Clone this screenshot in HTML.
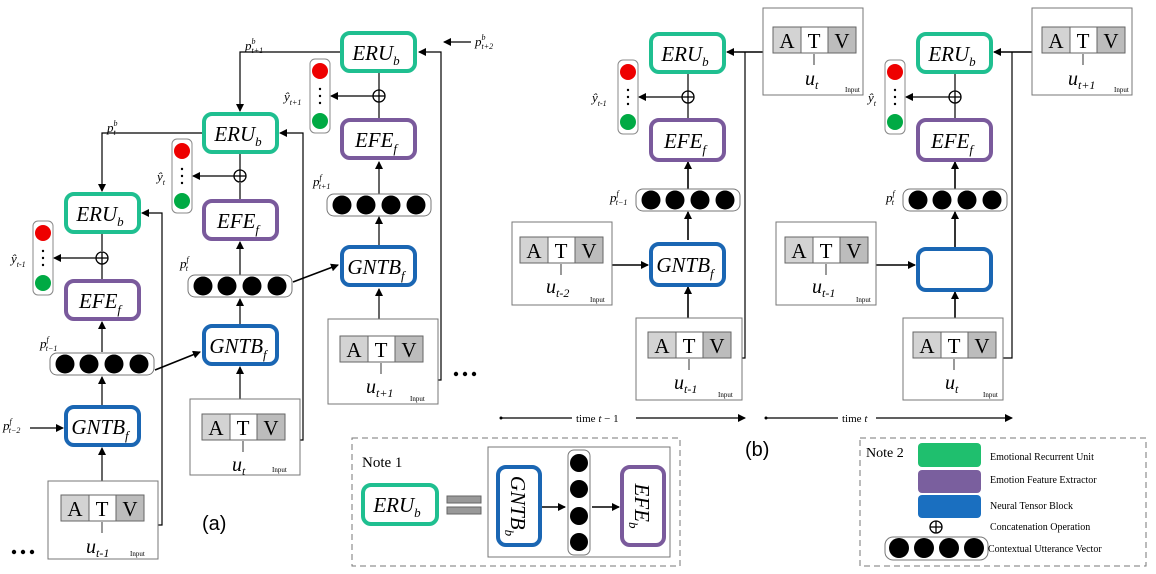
<!DOCTYPE html>
<html><head><meta charset="utf-8"><style>
body{margin:0;background:#fff}
svg{display:block;font-family:"Liberation Serif",serif}
.it{font-style:italic}
</style></head><body>
<svg width="1156" height="574" viewBox="0 0 1156 574" xmlns="http://www.w3.org/2000/svg">
<defs>
<marker id="ar" markerWidth="8" markerHeight="8" refX="7" refY="4" orient="auto" markerUnits="userSpaceOnUse"><path d="M0,0 L8,4 L0,8 Z" fill="#000"/></marker>
<g id="sm"><rect x="0" y="0" width="20" height="74" rx="5" fill="#fff" stroke="#888"/><circle cx="10" cy="12" r="8" fill="#e00"/><circle cx="10" cy="62" r="8" fill="#0a4"/><circle cx="10" cy="30" r="1.2"/><circle cx="10" cy="37" r="1.2"/><circle cx="10" cy="44" r="1.2"/></g>
<g id="vh"><rect x="0" y="0" width="104" height="22" rx="7" fill="#fff" stroke="#777"/><circle cx="15" cy="11" r="9.5"/><circle cx="39" cy="11" r="9.5"/><circle cx="64" cy="11" r="9.5"/><circle cx="89" cy="11" r="9.5"/></g>
<g id="cat"><circle cx="0" cy="0" r="6" fill="#fff" stroke="#000" stroke-width="1.3"/><line x1="-6" y1="0" x2="6" y2="0" stroke="#000" stroke-width="1.3"/><line x1="0" y1="-6" x2="0" y2="6" stroke="#000" stroke-width="1.3"/></g>
<g id="atv"><rect x="0" y="0" width="28" height="26" fill="#d3d3d3" stroke="#666"/><rect x="28" y="0" width="27" height="26" fill="#fff" stroke="#666"/><rect x="55" y="0" width="28" height="26" fill="#bcbcbc" stroke="#666"/></g>
</defs>

<g stroke="#000" fill="none" stroke-width="1.2">
<path d="M158,525 H162 V213 H142" marker-end="url(#ar)"/>
<path d="M102,481 V448" marker-end="url(#ar)"/>
<path d="M102,406 V377" marker-end="url(#ar)"/>
<path d="M102,352 V322" marker-end="url(#ar)"/>
<path d="M102,280 V264"/>
<path d="M102,233 V251"/>
<path d="M96,258 H54" marker-end="url(#ar)"/>
<path d="M30,428 H63" marker-end="url(#ar)"/>
<path d="M155,370 L200,352" marker-end="url(#ar)" stroke-width="1.6"/>
<path d="M203,133 H102 V191" marker-end="url(#ar)"/>
<path d="M300,440 H303 V133 H280" marker-end="url(#ar)"/>
<path d="M240,399 V367" marker-end="url(#ar)"/>
<path d="M240,325 V299" marker-end="url(#ar)"/>
<path d="M240,275 V242" marker-end="url(#ar)"/>
<path d="M240,200 V183"/>
<path d="M240,153 V170"/>
<path d="M234,176 H193" marker-end="url(#ar)"/>
<path d="M293,282 L338,265" marker-end="url(#ar)" stroke-width="1.6"/>
<path d="M341,52 H240 V111" marker-end="url(#ar)"/>
<path d="M438,380 H441 V52 H419" marker-end="url(#ar)"/>
<path d="M471,42 H444" marker-end="url(#ar)"/>
<path d="M379,319 V289" marker-end="url(#ar)"/>
<path d="M379,245 V217" marker-end="url(#ar)"/>
<path d="M379,195 V162" marker-end="url(#ar)"/>
<path d="M379,118 V102"/>
<path d="M379,72 V90"/>
<path d="M373,96 H331" marker-end="url(#ar)"/>
<path d="M763,52 H727" marker-end="url(#ar)" stroke-width="1.6"/>
<path d="M742,358 H745 V52"/>
<path d="M612,265 H648" marker-end="url(#ar)" stroke-width="1.6"/>
<path d="M688,318 V287" marker-end="url(#ar)" stroke-width="1.6"/>
<path d="M688,240 V212" marker-end="url(#ar)" stroke-width="1.6"/>
<path d="M688,190 V162" marker-end="url(#ar)" stroke-width="1.6"/>
<path d="M688,118 V103"/>
<path d="M688,72 V91"/>
<path d="M682,97 H639" marker-end="url(#ar)"/>
<path d="M1032,52 H994" marker-end="url(#ar)" stroke-width="1.6"/>
<path d="M1003,358 H1012 V52"/>
<path d="M876,265 H915" marker-end="url(#ar)" stroke-width="1.6"/>
<path d="M955,318 V292" marker-end="url(#ar)" stroke-width="1.6"/>
<path d="M955,250 V212" marker-end="url(#ar)" stroke-width="1.6"/>
<path d="M955,190 V162" marker-end="url(#ar)" stroke-width="1.6"/>
<path d="M955,118 V103"/>
<path d="M955,72 V91"/>
<path d="M949,97 H906" marker-end="url(#ar)"/>
<path d="M501,418 H572"/>
<path d="M636,418 H745" marker-end="url(#ar)"/>
<path d="M766,418 H838"/>
<path d="M876,418 H1012" marker-end="url(#ar)"/>
<path d="M540,507 H565" marker-end="url(#ar)" stroke-width="1.6"/>
<path d="M592,507 H619" marker-end="url(#ar)" stroke-width="1.6"/>
</g>
<circle cx="501" cy="418" r="1.5"/><circle cx="766" cy="418" r="1.5"/>
<text x="576" y="422" font-size="11">time <tspan class="it">t</tspan> − 1</text>
<text x="842" y="422" font-size="11">time <tspan class="it">t</tspan></text>

<use href="#cat" x="102" y="258"/><use href="#cat" x="240" y="176"/><use href="#cat" x="379" y="96"/>
<use href="#cat" x="688" y="97"/><use href="#cat" x="955" y="97"/>

<use href="#sm" x="33" y="221"/><use href="#sm" x="172" y="139"/><use href="#sm" x="310" y="59"/>
<use href="#sm" x="618" y="60"/><use href="#sm" x="885" y="60"/>

<use href="#vh" x="50" y="353"/><use href="#vh" x="188" y="275"/><use href="#vh" x="327" y="194"/>
<use href="#vh" x="636" y="189"/><use href="#vh" x="903" y="189"/>

<g stroke-width="4" fill="#fff">
<rect x="66" y="194" width="73" height="38" rx="8" stroke="#1fbf90"/>
<rect x="66" y="281" width="73" height="38" rx="8" stroke="#7a5a9c"/>
<rect x="66" y="407" width="73" height="38" rx="8" stroke="#1a66b3"/>
<rect x="204" y="114" width="73" height="38" rx="8" stroke="#1fbf90"/>
<rect x="204" y="201" width="73" height="38" rx="8" stroke="#7a5a9c"/>
<rect x="204" y="326" width="73" height="38" rx="8" stroke="#1a66b3"/>
<rect x="342" y="33" width="73" height="38" rx="8" stroke="#1fbf90"/>
<rect x="342" y="120" width="73" height="38" rx="8" stroke="#7a5a9c"/>
<rect x="342" y="247" width="73" height="38" rx="8" stroke="#1a66b3"/>
<rect x="651" y="34" width="73" height="38" rx="8" stroke="#1fbf90"/>
<rect x="651" y="120" width="73" height="40" rx="8" stroke="#7a5a9c"/>
<rect x="651" y="244" width="73" height="41" rx="8" stroke="#1a66b3"/>
<rect x="918" y="34" width="73" height="38" rx="8" stroke="#1fbf90"/>
<rect x="918" y="120" width="73" height="40" rx="8" stroke="#7a5a9c"/>
<rect x="918" y="249" width="73" height="41" rx="8" stroke="#1a66b3"/>
<rect x="363" y="485" width="74" height="39" rx="8" stroke="#1fbf90"/>
<rect x="498" y="467" width="42" height="78" rx="8" stroke="#1a66b3"/>
<rect x="622" y="467" width="42" height="78" rx="8" stroke="#7a5a9c"/>
</g>

<g font-size="21" class="it" text-anchor="middle">
<text x="100" y="221">ERU<tspan font-size="13" dy="5">b</tspan></text>
<text x="100" y="308">EFE<tspan font-size="13" dy="6">f</tspan></text>
<text x="100" y="434">GNTB<tspan font-size="13" dy="6">f</tspan></text>
<text x="238" y="141">ERU<tspan font-size="13" dy="5">b</tspan></text>
<text x="238" y="228">EFE<tspan font-size="13" dy="6">f</tspan></text>
<text x="238" y="353">GNTB<tspan font-size="13" dy="6">f</tspan></text>
<text x="376" y="60">ERU<tspan font-size="13" dy="5">b</tspan></text>
<text x="376" y="147">EFE<tspan font-size="13" dy="6">f</tspan></text>
<text x="376" y="274">GNTB<tspan font-size="13" dy="6">f</tspan></text>
<text x="685" y="61">ERU<tspan font-size="13" dy="5">b</tspan></text>
<text x="685" y="148">EFE<tspan font-size="13" dy="6">f</tspan></text>
<text x="685" y="272">GNTB<tspan font-size="13" dy="6">f</tspan></text>
<text x="952" y="61">ERU<tspan font-size="13" dy="5">b</tspan></text>
<text x="952" y="148">EFE<tspan font-size="13" dy="6">f</tspan></text>
<text x="397" y="512">ERU<tspan font-size="13" dy="5">b</tspan></text>
<text transform="translate(511,506) rotate(90)">GNTB<tspan font-size="13" dy="6">b</tspan></text>
<text transform="translate(635,506) rotate(90)">EFE<tspan font-size="13" dy="6">b</tspan></text>
</g>

<g fill="#fff" stroke="#777">
<rect x="48" y="481" width="110" height="78"/>
<rect x="190" y="399" width="110" height="76"/>
<rect x="328" y="319" width="110" height="85"/>
<rect x="763" y="8" width="100" height="87"/>
<rect x="512" y="222" width="100" height="83"/>
<rect x="636" y="318" width="106" height="82"/>
<rect x="1032" y="8" width="100" height="87"/>
<rect x="776" y="222" width="100" height="83"/>
<rect x="903" y="318" width="100" height="82"/>
</g>
<use href="#atv" x="61" y="495"/><use href="#atv" x="202" y="414"/><use href="#atv" x="340" y="336"/>
<use href="#atv" x="773" y="27"/><use href="#atv" x="520" y="237"/><use href="#atv" x="648" y="332"/>
<use href="#atv" x="1042" y="27"/><use href="#atv" x="785" y="237"/><use href="#atv" x="913" y="332"/>
<g font-size="21" text-anchor="middle">
<text x="75" y="516">A</text><text x="102" y="516">T</text><text x="130" y="516">V</text>
<text x="216" y="435">A</text><text x="243" y="435">T</text><text x="271" y="435">V</text>
<text x="354" y="357">A</text><text x="381" y="357">T</text><text x="409" y="357">V</text>
<text x="787" y="48">A</text><text x="814" y="48">T</text><text x="842" y="48">V</text>
<text x="534" y="258">A</text><text x="561" y="258">T</text><text x="589" y="258">V</text>
<text x="662" y="353">A</text><text x="689" y="353">T</text><text x="717" y="353">V</text>
<text x="1056" y="48">A</text><text x="1083" y="48">T</text><text x="1111" y="48">V</text>
<text x="799" y="258">A</text><text x="826" y="258">T</text><text x="854" y="258">V</text>
<text x="927" y="353">A</text><text x="954" y="353">T</text><text x="982" y="353">V</text>
</g>
<g stroke="#000" stroke-width="0.8">
<path d="M102,533 V522"/><path d="M243,452 V441"/><path d="M381,374 V363"/>
<path d="M814,65 V54"/><path d="M561,275 V264"/><path d="M689,370 V359"/>
<path d="M1083,65 V54"/><path d="M826,275 V264"/><path d="M954,370 V359"/>
</g>
<g font-size="20" class="it">
<text x="86" y="553">u<tspan font-size="12" dy="4">t-1</tspan></text>
<text x="232" y="471">u<tspan font-size="12" dy="4">t</tspan></text>
<text x="366" y="393">u<tspan font-size="12" dy="4">t+1</tspan></text>
<text x="805" y="85">u<tspan font-size="12" dy="4">t</tspan></text>
<text x="546" y="293">u<tspan font-size="12" dy="4">t-2</tspan></text>
<text x="674" y="389">u<tspan font-size="12" dy="4">t-1</tspan></text>
<text x="1068" y="85">u<tspan font-size="12" dy="4">t+1</tspan></text>
<text x="812" y="293">u<tspan font-size="12" dy="4">t-1</tspan></text>
<text x="945" y="389">u<tspan font-size="12" dy="4">t</tspan></text>
</g>
<g font-size="7">
<text x="130" y="556">Input</text><text x="272" y="472">Input</text><text x="410" y="401">Input</text>
<text x="845" y="92">Input</text><text x="590" y="302">Input</text><text x="718" y="397">Input</text>
<text x="1114" y="92">Input</text><text x="856" y="302">Input</text><text x="983" y="397">Input</text>
</g>

<g font-size="13" class="it">
<text x="245" y="50">p<tspan font-size="8" dy="-6">b</tspan><tspan font-size="8" dx="-4" dy="9">t+1</tspan></text>
<text x="107" y="132">p<tspan font-size="8" dy="-6">b</tspan><tspan font-size="8" dx="-4" dy="9">t</tspan></text>
<text x="475" y="46">p<tspan font-size="8" dy="-6">b</tspan><tspan font-size="8" dx="-4" dy="9">t+2</tspan></text>
<text x="313" y="186">p<tspan font-size="8" dy="-6">f</tspan><tspan font-size="8" dx="-3" dy="9">t+1</tspan></text>
<text x="180" y="268">p<tspan font-size="8" dy="-6">f</tspan><tspan font-size="8" dx="-3" dy="9">t</tspan></text>
<text x="40" y="348">p<tspan font-size="8" dy="-6">f</tspan><tspan font-size="8" dx="-3" dy="9">t−1</tspan></text>
<text x="3" y="430">p<tspan font-size="8" dy="-6">f</tspan><tspan font-size="8" dx="-3" dy="9">t−2</tspan></text>
<text x="610" y="202">p<tspan font-size="8" dy="-6">f</tspan><tspan font-size="8" dx="-3" dy="9">t−1</tspan></text>
<text x="886" y="202">p<tspan font-size="8" dy="-6">f</tspan><tspan font-size="8" dx="-3" dy="9">t</tspan></text>
<text x="284" y="101">ŷ<tspan font-size="8" dy="4">t+1</tspan></text>
<text x="157" y="181">ŷ<tspan font-size="8" dy="4">t</tspan></text>
<text x="11" y="263">ŷ<tspan font-size="8" dy="4">t-1</tspan></text>
<text x="592" y="102">ŷ<tspan font-size="8" dy="4">t-1</tspan></text>
<text x="868" y="102">ŷ<tspan font-size="8" dy="4">t</tspan></text>
</g>

<g fill="#000"><circle cx="14" cy="552" r="2.2"/><circle cx="23" cy="552" r="2.2"/><circle cx="32" cy="552" r="2.2"/>
<circle cx="456" cy="374" r="2.2"/><circle cx="465" cy="374" r="2.2"/><circle cx="474" cy="374" r="2.2"/></g>

<text x="202" y="530" font-size="20" font-family="Liberation Sans,sans-serif">(a)</text>
<text x="745" y="456" font-size="20" font-family="Liberation Sans,sans-serif">(b)</text>

<rect x="352" y="438" width="328" height="128" fill="none" stroke="#777" stroke-dasharray="6,4"/>
<text x="362" y="467" font-size="15">Note 1</text>
<rect x="447" y="496" width="34" height="7" fill="#999" stroke="#666"/>
<rect x="447" y="507" width="34" height="7" fill="#999" stroke="#666"/>
<rect x="488" y="447" width="182" height="110" fill="none" stroke="#777"/>
<rect x="568" y="450" width="22" height="105" rx="6" fill="#fff" stroke="#777"/>
<circle cx="579" cy="463" r="9"/><circle cx="579" cy="489" r="9"/><circle cx="579" cy="516" r="9"/><circle cx="579" cy="542" r="9"/>

<rect x="860" y="438" width="286" height="128" fill="none" stroke="#777" stroke-dasharray="6,4"/>
<text x="866" y="457" font-size="14">Note 2</text>
<rect x="918" y="443" width="63" height="24" rx="4" fill="#1fbf6e"/>
<rect x="918" y="470" width="63" height="23" rx="4" fill="#7a5f9e"/>
<rect x="918" y="495" width="63" height="23" rx="4" fill="#1a6fc0"/>
<use href="#cat" x="936" y="527"/>
<rect x="885" y="537" width="103" height="23" rx="8" fill="#fff" stroke="#777"/>
<circle cx="899" cy="548" r="10"/><circle cx="924" cy="548" r="10"/><circle cx="949" cy="548" r="10"/><circle cx="974" cy="548" r="10"/>
<g font-size="10">
<text x="990" y="460">Emotional Recurrent Unit</text>
<text x="990" y="483">Emotion Feature Extractor</text>
<text x="990" y="509">Neural Tensor Block</text>
<text x="990" y="530">Concatenation Operation</text>
<text x="988" y="552">Contextual Utterance Vector</text>
</g>
</svg>
</body></html>
